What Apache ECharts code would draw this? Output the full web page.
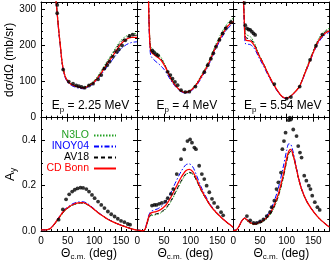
<!DOCTYPE html>
<html><head><meta charset="utf-8">
<script src="https://cdn.jsdelivr.net/npm/echarts@6/dist/echarts.min.js"></script>
<style>html,body{margin:0;padding:0;background:#fff}#c{width:332px;height:266px}</style>
</head><body><div id="c"></div>
<script>
// ---------- DATA ----------
const xTicks = [0, 50, 100, 150];
const energyLabels = ['2.25', '4', '5.54'];
const modelNames = ['N3LO', 'INOY04', 'AV18', 'CD Bonn'];

// Cross sections (mb/sr) -- Ep = 2.25 MeV
const csAng1 = [27, 28, 30, 33, 36, 40, 45, 50, 55, 60, 70, 80, 90, 100, 110, 120, 130, 140, 150, 160, 170, 180];
const csCDB1 = [345, 326, 295, 245, 203, 148, 115, 101, 94, 90, 85, 82, 89, 99, 117, 140, 161, 183, 204, 217, 222, 222];
const csAV1 = [345, 326, 295, 245, 203, 148, 115, 101, 94, 90, 85, 83, 90, 101, 120, 144, 166, 189, 210, 222, 227, 228];
const csINOY1 = [345, 326, 294, 243, 200, 145, 112, 98, 91, 87, 82, 80, 86, 96, 113, 134, 153, 172, 190, 202, 208, 210];
const csN3LO1 = [345, 327, 296, 246, 204, 150, 117, 102, 95, 91, 86, 84, 92, 103, 123, 147, 170, 193, 214, 226, 232, 233];
const csExpAng1 = [30.4, 30.4, 41.6, 52, 60, 66, 71, 76, 82, 90, 97.5, 107, 113, 119, 124, 128.5, 135, 142, 146, 152, 158, 166, 172];
const csExp1 = [312, 289, 133, 100, 94, 89, 87, 85, 83, 89, 94, 106, 118, 136, 145, 155, 169, 182, 189, 200, 214, 226, 230];

// Ep = 4 MeV
const csAng2 = [20, 21, 22, 23, 24, 25, 27, 30, 35, 40, 45, 50, 55, 63, 72, 82, 91, 100, 110, 119, 129, 138, 147, 157, 166, 175, 180];
const csCDB2 = [420, 330, 265, 222, 198, 186, 180, 176, 170, 165, 158, 147, 133, 108, 88, 74, 70, 75, 90, 111, 136, 164, 195, 224, 246, 261, 266];
const csAV2 = [420, 332, 270, 228, 203, 191, 185, 181, 175, 170, 162, 150, 135, 109, 88, 74, 70, 76, 91, 113, 139, 167, 199, 228, 251, 266, 271];
const csINOY2 = [420, 325, 255, 210, 186, 173, 167, 162, 155, 149, 142, 134, 123, 103, 85, 72, 68, 73, 87, 107, 132, 159, 190, 218, 240, 255, 259];
const csN3LO2 = [420, 335, 275, 233, 209, 197, 191, 187, 181, 175, 166, 152, 136, 110, 89, 75, 71, 77, 93, 115, 141, 170, 202, 232, 255, 270, 275];
const csExpAng2 = [28, 31, 35, 39, 57, 62, 66, 70.6, 75.6, 82, 90, 97.5, 109, 125.6, 132, 138, 142.5, 147.5, 154, 160, 166, 175.6];
const csExp2 = [186, 181, 176, 172, 127, 118, 108, 99, 90, 76, 71, 72, 86, 126, 145, 163, 178, 196, 215, 233, 247, 264];

// Ep = 5.54 MeV
const csAng3 = [18, 19, 20, 21, 22, 24, 28, 32, 37, 42, 48, 56, 65, 74.5, 85, 92, 99.4, 106, 115, 124, 133, 143, 152, 161, 170, 177, 180];
const csCDB3 = [400, 330, 290, 250, 222, 214, 213, 212, 205, 192, 172, 150, 122, 95, 70, 58, 54, 58, 70, 86, 118, 155, 188, 215, 231, 238, 240];
const csAV3 = [400, 332, 294, 256, 230, 221, 219, 217, 209, 195, 174, 151, 122, 95, 70, 58, 54, 58, 70, 87, 119, 157, 191, 218, 234, 242, 244];
const csINOY3 = [400, 325, 283, 240, 210, 203, 203, 202, 196, 185, 166, 145, 118, 92, 68, 57, 53, 57, 69, 85, 116, 153, 185, 211, 227, 234, 236];
const csN3LO3 = [400, 335, 298, 262, 238, 230, 227, 224, 214, 198, 176, 152, 123, 95, 70, 58, 54, 59, 71, 88, 120, 159, 193, 221, 238, 245, 247];
const csExpAng3 = [21, 22.4, 25.5, 28.6, 31.7, 34.8, 38, 41, 77, 100, 108, 124.5, 144, 155, 167];
const csExp3 = [317, 256, 247, 244, 243, 238, 233, 229, 93, 53, 57, 86, 160, 199, 230];

// Analyzing powers Ay -- Ep = 2.25 MeV
const ayAng1 = [0, 10, 14, 18, 23, 28, 32, 37, 42, 47, 52, 60, 70, 79, 88, 97.5, 107, 116, 125, 135, 144, 153, 163, 172, 180];
const ayCDB1 = [0.005, 0.005, 0.007, 0.012, 0.025, 0.040, 0.054, 0.070, 0.086, 0.097, 0.106, 0.117, 0.124, 0.125, 0.116, 0.099, 0.081, 0.066, 0.052, 0.040, 0.031, 0.023, 0.015, 0.008, 0.004];
const ayAV1 = [0.005, 0.005, 0.007, 0.011, 0.023, 0.038, 0.051, 0.067, 0.083, 0.095, 0.104, 0.115, 0.123, 0.124, 0.115, 0.099, 0.081, 0.066, 0.052, 0.040, 0.031, 0.023, 0.015, 0.008, 0.004];
const ayINOY1 = [0.005, 0.005, 0.007, 0.012, 0.025, 0.041, 0.056, 0.072, 0.089, 0.100, 0.109, 0.121, 0.128, 0.129, 0.120, 0.102, 0.083, 0.067, 0.053, 0.041, 0.031, 0.023, 0.015, 0.008, 0.004];
const ayN3LO1 = [0.005, 0.005, 0.007, 0.011, 0.022, 0.037, 0.050, 0.066, 0.082, 0.094, 0.103, 0.115, 0.122, 0.123, 0.115, 0.099, 0.082, 0.067, 0.053, 0.041, 0.032, 0.024, 0.016, 0.009, 0.004];
const ayExpAng1 = [33, 41, 47, 52.8, 58.4, 63.3, 68.3, 74, 79, 85, 90, 95.6, 100.6, 107, 113, 119, 125.4, 131.7, 138, 144, 150, 156.5, 162.7, 167];
const ayExp1 = [0.050, 0.095, 0.140, 0.162, 0.174, 0.182, 0.188, 0.191, 0.190, 0.185, 0.174, 0.159, 0.145, 0.130, 0.115, 0.101, 0.086, 0.074, 0.064, 0.054, 0.045, 0.039, 0.031, 0.028];

// Ep = 4 MeV
const ayAng2 = [0, 5, 10, 14, 17, 20, 23, 26, 30, 35, 40, 44, 49, 54, 63, 72.5, 82, 91, 97.5, 104, 110, 119, 129, 138, 147.5, 157, 166, 175.6, 180];
const ayCDB2 = [0.004, 0.003, 0.001, 0.006, 0.025, 0.052, 0.072, 0.080, 0.083, 0.086, 0.090, 0.095, 0.104, 0.115, 0.149, 0.193, 0.236, 0.266, 0.272, 0.262, 0.235, 0.187, 0.143, 0.109, 0.083, 0.061, 0.042, 0.024, 0.016];
const ayAV2 = [0.004, 0.003, 0.001, 0.005, 0.022, 0.046, 0.064, 0.071, 0.073, 0.075, 0.078, 0.083, 0.091, 0.101, 0.133, 0.176, 0.220, 0.252, 0.259, 0.252, 0.228, 0.183, 0.141, 0.108, 0.082, 0.060, 0.041, 0.024, 0.016];
const ayINOY2 = [0.004, 0.003, 0.001, 0.007, 0.028, 0.057, 0.078, 0.087, 0.091, 0.095, 0.100, 0.107, 0.118, 0.132, 0.170, 0.218, 0.262, 0.292, 0.296, 0.283, 0.252, 0.198, 0.150, 0.113, 0.085, 0.062, 0.043, 0.025, 0.016];
const ayN3LO2 = [0.004, 0.003, 0.001, 0.005, 0.021, 0.044, 0.062, 0.068, 0.070, 0.072, 0.075, 0.080, 0.088, 0.098, 0.129, 0.172, 0.216, 0.249, 0.256, 0.250, 0.227, 0.183, 0.141, 0.108, 0.082, 0.060, 0.041, 0.024, 0.016];
const ayExpAng2 = [27.5, 32, 36, 41, 46, 52.5, 57, 63, 67.5, 74, 82, 88, 94, 99, 102.5, 107, 110, 116, 121, 125.6, 130, 135, 140, 144, 150.6, 157, 161];
const ayExp2 = [0.112, 0.115, 0.115, 0.120, 0.124, 0.130, 0.145, 0.164, 0.185, 0.251, 0.317, 0.360, 0.397, 0.404, 0.390, 0.368, 0.361, 0.288, 0.251, 0.229, 0.200, 0.171, 0.142, 0.124, 0.105, 0.083, 0.069];

// Ep = 5.54 MeV
const ayAng3 = [0, 5, 10, 16, 21, 25, 28.6, 33, 38, 43, 47, 56.5, 66, 75, 84.5, 94, 100, 104, 107.5, 110.5, 115.5, 122, 128, 137, 146.6, 156, 165, 174.5, 180];
const ayCDB3 = [0.003, 0.004, 0.018, 0.045, 0.057, 0.051, 0.043, 0.036, 0.032, 0.033, 0.036, 0.047, 0.069, 0.105, 0.164, 0.251, 0.320, 0.352, 0.360, 0.350, 0.305, 0.236, 0.185, 0.134, 0.098, 0.069, 0.047, 0.028, 0.018];
const ayAV3 = [0.003, 0.004, 0.017, 0.044, 0.056, 0.049, 0.040, 0.033, 0.029, 0.030, 0.033, 0.043, 0.064, 0.098, 0.155, 0.240, 0.308, 0.342, 0.352, 0.345, 0.302, 0.234, 0.184, 0.133, 0.097, 0.068, 0.046, 0.028, 0.018];
const ayINOY3 = [0.003, 0.004, 0.018, 0.046, 0.058, 0.053, 0.045, 0.038, 0.035, 0.036, 0.040, 0.053, 0.079, 0.121, 0.190, 0.287, 0.355, 0.385, 0.383, 0.365, 0.313, 0.240, 0.187, 0.135, 0.099, 0.069, 0.047, 0.028, 0.018];
const ayN3LO3 = [0.003, 0.004, 0.017, 0.044, 0.055, 0.048, 0.039, 0.032, 0.028, 0.029, 0.032, 0.042, 0.062, 0.095, 0.152, 0.236, 0.305, 0.340, 0.350, 0.344, 0.302, 0.235, 0.184, 0.133, 0.097, 0.068, 0.046, 0.028, 0.018];
const ayExpAng3 = [25.5, 31.7, 38, 44, 50.3, 56.5, 62.7, 69, 72, 77, 81, 84.5, 89.4, 92, 95, 98, 104, 106, 108, 112.4, 118.6, 121.7, 125, 128, 133, 137, 141.6, 144.7, 148, 152.8, 157.7, 162];
const ayExp3 = [0.066, 0.047, 0.036, 0.036, 0.042, 0.051, 0.066, 0.083, 0.105, 0.134, 0.185, 0.215, 0.258, 0.361, 0.397, 0.434, 0.489, 0.500, 0.492, 0.448, 0.419, 0.375, 0.346, 0.324, 0.244, 0.222, 0.200, 0.185, 0.156, 0.127, 0.105, 0.093];

// ---------- LAYOUT / STYLE ----------
const FONT = "'Liberation Sans', Arial, Helvetica, sans-serif";
const COLX = [41, 137.3, 233.3], PW = 96;
const ROWY = [2, 117.7], PH = [115.7, 113.3];
const modelStyle = {
  'N3LO':    {color: '#22a022', width: 1, type: [1.5, 1.5]},
  'INOY04':  {color: '#0000ff', width: 1, type: [5, 2, 1.5, 2]},
  'AV18':    {color: '#000000', width: 1, type: [4, 3]},
  'CD Bonn': {color: '#ff0000', width: 1.3, type: 'solid'}
};
const panels = [
  {ang: csAng1, m: [csN3LO1, csINOY1, csAV1, csCDB1], ex: csExpAng1, ey: csExp1},
  {ang: csAng2, m: [csN3LO2, csINOY2, csAV2, csCDB2], ex: csExpAng2, ey: csExp2},
  {ang: csAng3, m: [csN3LO3, csINOY3, csAV3, csCDB3], ex: csExpAng3, ey: csExp3},
  {ang: ayAng1, m: [ayN3LO1, ayINOY1, ayAV1, ayCDB1], ex: ayExpAng1, ey: ayExp1},
  {ang: ayAng2, m: [ayN3LO2, ayINOY2, ayAV2, ayCDB2], ex: ayExpAng2, ey: ayExp2},
  {ang: ayAng3, m: [ayN3LO3, ayINOY3, ayAV3, ayCDB3], ex: ayExpAng3, ey: ayExp3}
];

const grids = [], xAxes = [], yAxes = [], series = [];
const subRich = {
  a: {fontSize: 12, fontFamily: FONT, color: '#000'},
  s: {fontSize: 8, fontFamily: FONT, color: '#000', padding: [7, 0, 0, 0]}
};
const tickStyle = {color: '#000', width: 1};

panels.forEach((p, gi) => {
  const row = gi < 3 ? 0 : 1, col = gi % 3;
  grids.push({left: COLX[col], top: ROWY[row], width: PW, height: PH[row], containLabel: false});
  const yr = row === 0 ? {min: 0, max: 320, major: 100, minor: 20} : {min: 0, max: 0.5, major: 0.2, minor: 0.05};
  const baseX = {gridIndex: gi, type: 'value', min: 0, max: 180, splitLine: {show: false}, silent: true,
    axisLine: {onZero: false, lineStyle: {color: '#000', width: 1}}};
  const baseY = {gridIndex: gi, type: 'value', min: yr.min, max: yr.max, splitLine: {show: false}, silent: true,
    axisLine: {onZero: false, lineStyle: {color: '#000', width: 1}}};
  const xi = xAxes.length, yi = yAxes.length;
  xAxes.push(Object.assign({}, baseX, {
    position: 'bottom', interval: 50,
    axisTick: {inside: true, length: 4, lineStyle: tickStyle},
    axisLabel: {show: row === 1, fontSize: 10, fontFamily: FONT, color: '#000', margin: 5, showMaxLabel: false},
    name: row === 1 ? '{a|Θ}{s|c.m.}{a| (deg)}' : '', nameLocation: 'middle', nameGap: 15,
    nameTextStyle: {rich: subRich}
  }));
  xAxes.push(Object.assign({}, baseX, {position: 'top', interval: 50,
    axisTick: {inside: true, length: 4, lineStyle: tickStyle}, axisLabel: {show: false}}));
  ['bottom', 'top'].forEach(pos => xAxes.push(Object.assign({}, baseX, {position: pos, interval: 10,
    axisLine: {show: false, onZero: false}, axisTick: {inside: true, length: 2, lineStyle: tickStyle}, axisLabel: {show: false}})));
  yAxes.push(Object.assign({}, baseY, {
    position: 'left', interval: yr.major,
    axisTick: {inside: true, length: 4, lineStyle: tickStyle},
    axisLabel: {show: col === 0, fontSize: 10, fontFamily: FONT, color: '#000', margin: 5, showMaxLabel: false,
      formatter: row === 0 ? (v => String(v)) : (v => v.toFixed(1))},
    name: col === 0 ? (row === 0 ? '{a|dσ/dΩ (mb/sr)}' : '{b|A}{t|y}') : '',
    nameLocation: 'middle', nameGap: row === 0 ? 23 : 22,
    nameTextStyle: {rich: {
      a: {fontSize: 12, fontFamily: FONT, color: '#000'},
      b: {fontSize: 13, fontFamily: FONT, color: '#000'},
      t: {fontSize: 9, fontFamily: FONT, color: '#000', padding: [7, 0, 0, 0]}
    }}
  }));
  yAxes.push(Object.assign({}, baseY, {position: 'right', interval: yr.major,
    axisTick: {inside: true, length: 4, lineStyle: tickStyle}, axisLabel: {show: false}}));
  ['left', 'right'].forEach(pos => yAxes.push(Object.assign({}, baseY, {position: pos, interval: yr.minor,
    axisLine: {show: false, onZero: false}, axisTick: {inside: true, length: 2, lineStyle: tickStyle}, axisLabel: {show: false}})));

  modelNames.forEach((name, k) => {
    const st = modelStyle[name];
    series.push({
      type: 'line', name: name, xAxisIndex: xi, yAxisIndex: yi,
      data: p.ang.map((a, j) => [a, p.m[k][j]]),
      symbol: 'none', smooth: 0.3, clip: true, silent: true, z: 2 + k,
      lineStyle: {color: st.color, width: st.width, type: st.type},
      itemStyle: {color: st.color}
    });
  });
  series.push({
    type: 'scatter', name: 'data', xAxisIndex: xi, yAxisIndex: yi,
    data: p.ex.map((a, j) => [a, p.ey[j]]),
    symbol: 'circle', symbolSize: 3.8, clip: false, silent: true, z: 10,
    itemStyle: {color: '#000'}
  });
});

const epGraphics = energyLabels.map((e, c) => ({
  type: 'text', x: COLX[c] + PW / 2 + 1.5, y: 106, silent: true,
  style: {
    text: '{e|E}{p|p}{e| = ' + e + ' MeV}', align: 'center', verticalAlign: 'middle',
    rich: {
      e: {fontSize: 12, fontFamily: FONT, fill: '#000'},
      p: {fontSize: 8, fontFamily: FONT, fill: '#000', padding: [7, 0, 0, 0]}
    }
  }
}));

const chart = echarts.init(document.getElementById('c'), null, {renderer: 'canvas'});
chart.setOption({
  animation: false,
  backgroundColor: '#fff',
  grid: grids, xAxis: xAxes, yAxis: yAxes, series: series,
  legend: {
    orient: 'vertical', align: 'right', right: 210, top: 125,
    itemWidth: 22, itemHeight: 8, itemGap: 0, selectedMode: false,
    itemStyle: {opacity: 0, borderWidth: 0},
    textStyle: {fontSize: 10.5, fontFamily: FONT},
    data: modelNames.map(n => ({name: n, textStyle: {color: modelStyle[n].color}}))
  },
  graphic: epGraphics
});
</script></body></html>
